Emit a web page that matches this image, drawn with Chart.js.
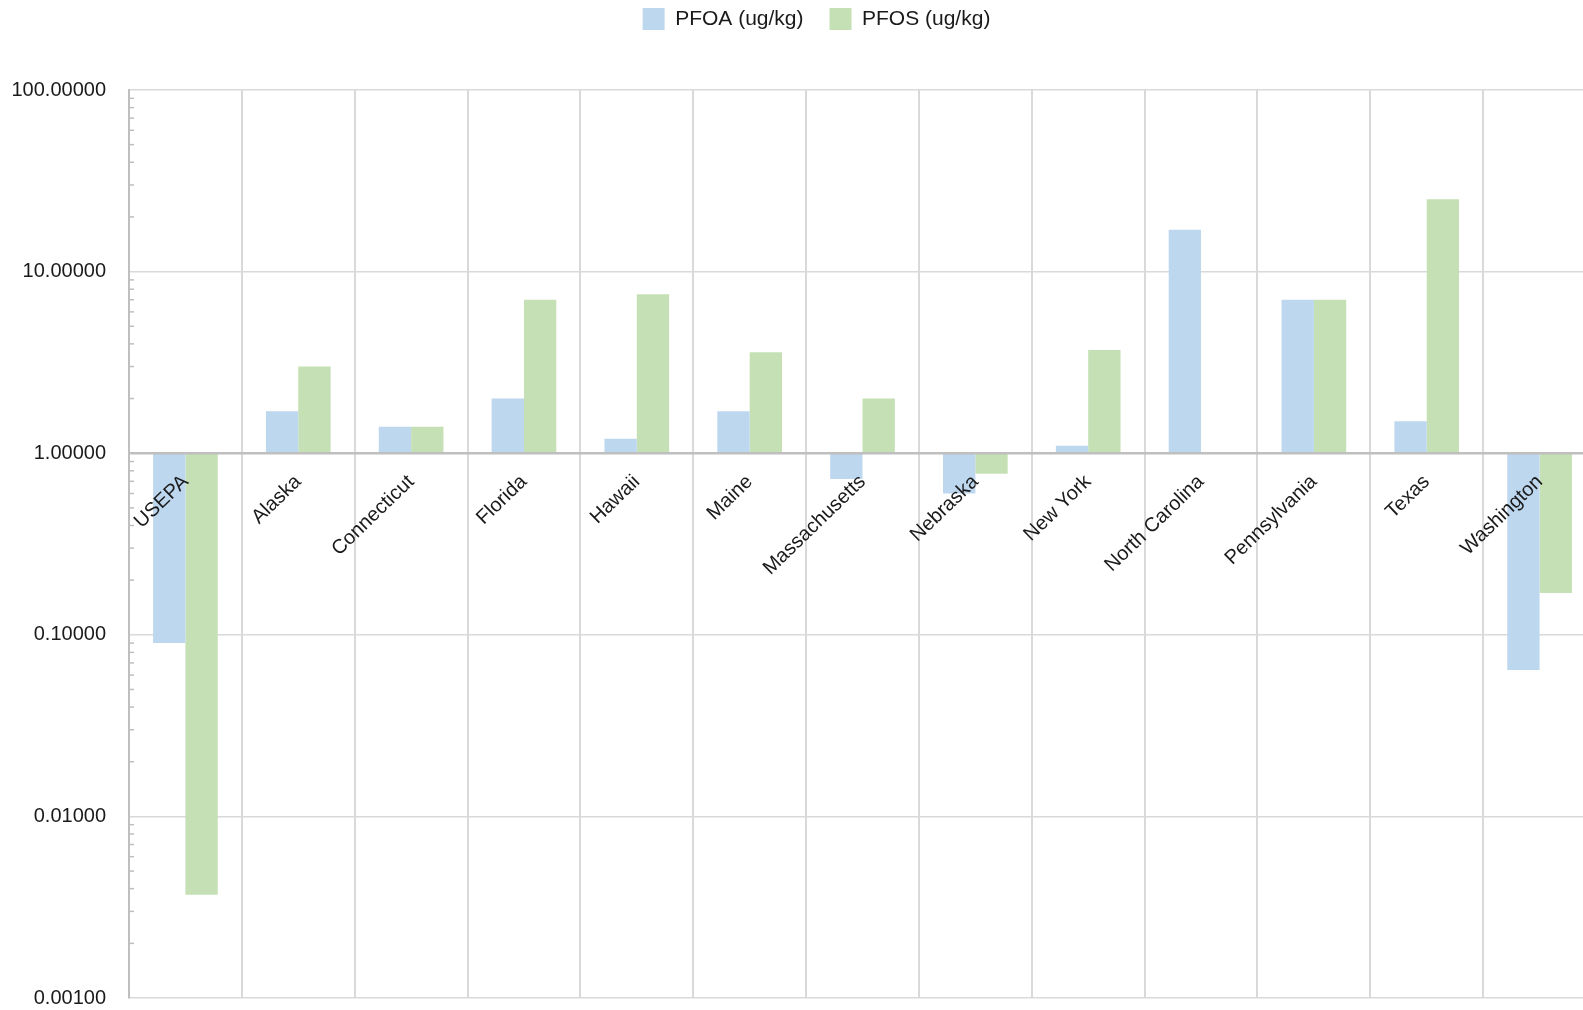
<!DOCTYPE html>
<html>
<head>
<meta charset="utf-8">
<script src="https://cdn.jsdelivr.net/npm/chart.js@4/dist/chart.umd.min.js"></script>
<style>
html, body { margin: 0; padding: 0; overflow: hidden; background: #fff; }
#wrap { width: 1633px; height: 1010px; }
</style>
</head>
<body>
<div id="wrap"><canvas id="pfasChart" width="1633" height="1010"></canvas></div>
<script>
// values (ug/kg), bars drawn from 1.0
var states = ['USEPA', 'Alaska', 'Connecticut', 'Florida', 'Hawaii', 'Maine', 'Massachusetts',
    'Nebraska', 'New York', 'North Carolina', 'Pennsylvania', 'Texas', 'Washington'];
var pfoa = [0.09, 1.7, 1.4, 2.0, 1.2, 1.7, 0.72, 0.6, 1.1, 17, 7.0, 1.5, 0.064];
var pfos = [0.0037, 3.0, 1.4, 7.0, 7.5, 3.6, 2.0, 0.77, 3.7, null, 7.0, 25, 0.17];
var yTicks = [0.001, 0.01, 0.1, 1, 10, 100];
var baseline = 1;

function toFloating(arr) {
    return arr.map(function (v) { return v == null ? null : [baseline, v]; });
}

Chart.defaults.font.family = '"Liberation Sans", Arial, sans-serif';
Chart.defaults.color = '#1a1a1a';

// small inward ticks between decades on the value axis
var minorTicks = {
    id: 'minorTicks',
    afterDatasetsDraw: function (chart) {
        var y = chart.scales.y;
        var ctx = chart.ctx;
        ctx.save();
        ctx.strokeStyle = '#bfbfbf';
        ctx.lineWidth = 1.5;
        for (var i = 0; i < yTicks.length - 1; i++) {
            for (var m = 2; m <= 9; m++) {
                var py = y.getPixelForValue(yTicks[i] * m);
                ctx.beginPath();
                ctx.moveTo(y.right, py);
                ctx.lineTo(y.right + 5, py);
                ctx.stroke();
            }
        }
        ctx.restore();
    }
};

// push the plot down below the legend
var legendSpace = {
    id: 'legendSpace',
    beforeInit: function (chart) {
        var fit = chart.legend.fit;
        chart.legend.fit = function () {
            fit.bind(chart.legend)();
            this.height += 50;
        };
    }
};

var ctx = document.getElementById('pfasChart').getContext('2d');
var pfasChart = new Chart(ctx, {
    type: 'bar',
    data: {
        labels: states,
        datasets: [{
            label: 'PFOA (ug/kg)',
            data: toFloating(pfoa),
            backgroundColor: '#bdd7ee',
            borderWidth: 0
        }, {
            label: 'PFOS (ug/kg)',
            data: toFloating(pfos),
            backgroundColor: '#c5e0b4',
            borderWidth: 0
        }]
    },
    options: {
        responsive: false,
        animation: false,
        devicePixelRatio: 1,
        categoryPercentage: 0.573,
        barPercentage: 1.0,
        layout: { padding: { top: -18, bottom: 0 } },
        plugins: {
            tooltip: { enabled: false },
            legend: {
                position: 'top',
                labels: {
                    boxWidth: 22,
                    boxHeight: 22,
                    padding: 26,
                    font: { size: 21 }
                }
            }
        },
        scales: {
            x: {
                type: 'category',
                position: { y: 1 },
                offset: true,
                grid: { offset: true, color: '#d9d9d9', lineWidth: 2, drawTicks: false },
                border: { color: '#bfbfbf', width: 2.5, z: 1 },
                ticks: {
                    z: 1,
                    autoSkip: false,
                    minRotation: 44,
                    maxRotation: 44,
                    padding: 17,
                    font: { size: 20 }
                }
            },
            y: {
                type: 'logarithmic',
                min: 0.001,
                max: 100,
                afterBuildTicks: function (scale) {
                    scale.ticks = yTicks.map(function (v) { return { value: v }; });
                },
                afterFit: function (scale) { scale.width = 129; },
                grid: { color: '#d9d9d9', lineWidth: 1.5, drawTicks: true, tickLength: 23, tickColor: 'rgba(0,0,0,0)' },
                border: { color: '#bfbfbf', width: 2 },
                ticks: {
                    padding: 0,
                    font: { size: 20 },
                    callback: function (v) { return Number(v).toFixed(5); }
                }
            },
            yRight: {
                type: 'linear',
                position: 'right',
                grid: { display: false },
                border: { display: false },
                ticks: { display: false },
                afterFit: function (scale) { scale.width = 37; }
            }
        }
    },
    plugins: [minorTicks, legendSpace]
});
</script>
</body>
</html>
